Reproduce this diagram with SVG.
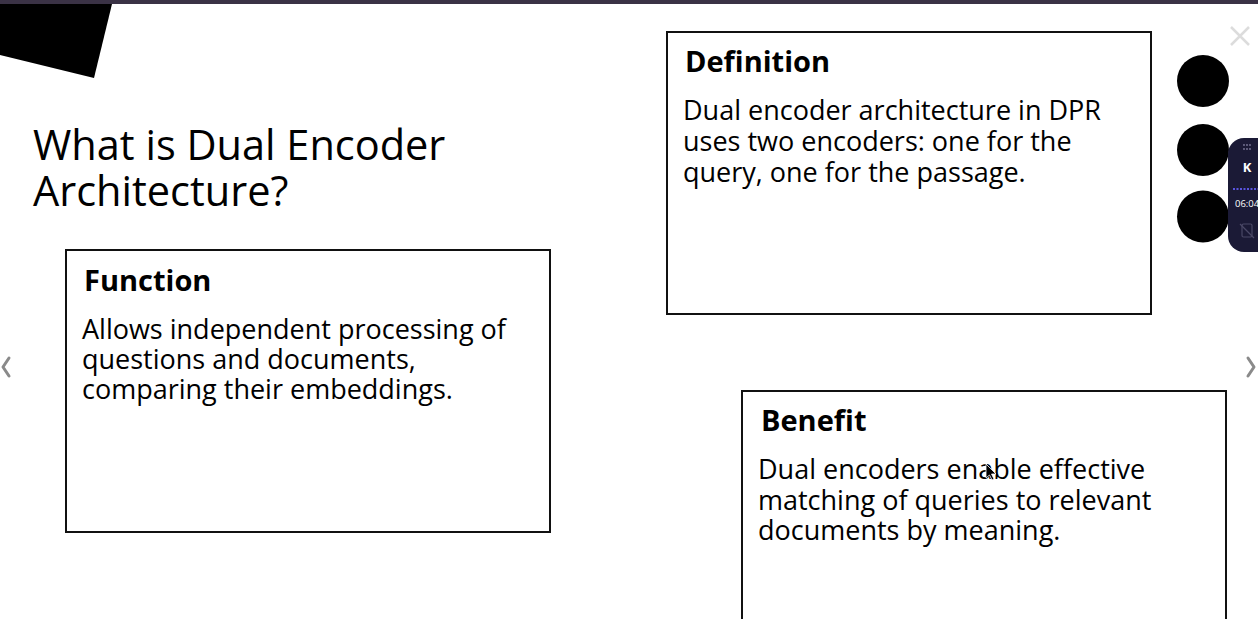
<svg xmlns="http://www.w3.org/2000/svg" width="1258" height="619" viewBox="0 0 1258 619">
<style>
.box{fill:#fff;stroke:#111;stroke-width:2}
.head{font-family:"Open Sans","Liberation Sans",sans-serif;font-weight:700;font-size:29px;fill:#000}
.body{font-family:"Open Sans","Liberation Sans",sans-serif;font-size:27px;fill:#000}
.title{font-family:"Open Sans","Liberation Sans",sans-serif;font-size:41.5px;fill:#000}
.dot{fill:#000}
.chev{fill:none;stroke:#8a8a8a;stroke-width:3;stroke-linecap:round;stroke-linejoin:round}
</style>
<rect width="1258" height="619" fill="#fff"/>
<rect x="0" y="0" width="1258" height="4" fill="#3a3245"/>
<polygon points="0,4 112,4 94,78 0,55" fill="#000"/>
<g id="title">
<text class="title" x="33" y="160">What is Dual Encoder</text>
<text class="title" x="33" y="206">Architecture?</text>
</g>
<g id="function">
<rect class="box" x="66" y="250" width="484" height="282"/>
<text class="head" x="84" y="291">Function</text>
<text class="body" x="82" y="339">Allows independent processing of</text>
<text class="body" x="82" y="369">questions and documents,</text>
<text class="body" x="82" y="399">comparing their embeddings.</text>
</g>
<g id="definition">
<rect class="box" x="667" y="32" width="484" height="282"/>
<text class="head" x="685" y="72">Definition</text>
<text class="body" x="683" y="120">Dual encoder architecture in DPR</text>
<text class="body" x="683" y="151">uses two encoders: one for the</text>
<text class="body" x="683" y="182">query, one for the passage.</text>
</g>
<g id="benefit">
<rect class="box" x="742" y="391" width="484" height="240"/>
<text class="head" x="761" y="431">Benefit</text>
<text class="body" x="758" y="479">Dual encoders enable effective</text>
<text class="body" x="758" y="510">matching of queries to relevant</text>
<text class="body" x="758" y="540">documents by meaning.</text>
</g>
<g id="connectors"></g>
<g id="controls">
<circle class="dot" cx="1203" cy="81" r="26"/>
<circle class="dot" cx="1203" cy="150" r="26"/>
<circle class="dot" cx="1203" cy="216.5" r="26"/>
<path d="M1231,27 L1249,45 M1249,27 L1231,45" stroke="#dcdcdc" stroke-width="2.5" fill="none"/>
<path class="chev" d="M9,358 L3,367 L9,376"/>
<path class="chev" d="M1248,358 L1254,367 L1248,376"/>
</g>
<g id="widget">
<rect x="1228" y="138" width="50" height="114" rx="16" fill="#1b1a36"/>
<g fill="#7c7a9a">
<circle cx="1244" cy="145" r="0.9"/><circle cx="1247" cy="145" r="0.9"/><circle cx="1250" cy="145" r="0.9"/>
<circle cx="1244" cy="149" r="0.9"/><circle cx="1247" cy="149" r="0.9"/><circle cx="1250" cy="149" r="0.9"/>
</g>
<text x="1247" y="172" font-family="'Open Sans','Liberation Sans',sans-serif" font-weight="700" font-size="13" fill="#fff" text-anchor="middle">K</text>
<line x1="1233" y1="189" x2="1258" y2="189" stroke="#5a55e0" stroke-width="2" stroke-dasharray="2,1.5"/>
<text x="1235" y="207" font-family="'Open Sans','Liberation Sans',sans-serif" font-size="9.5" fill="#fff">06:04</text>
<rect x="1242" y="224" width="10" height="13" rx="1.5" fill="none" stroke="#4a4866" stroke-width="1.2"/>
<line x1="1240" y1="224" x2="1254" y2="238" stroke="#4a4866" stroke-width="1.2"/>
</g>
<g id="cursor">
<polygon points="986,464 986,478 989.5,475 992,480 994,479 991.5,474 996,474" fill="#000" stroke="#fff" stroke-width="0.8"/>
</g>
</svg>
